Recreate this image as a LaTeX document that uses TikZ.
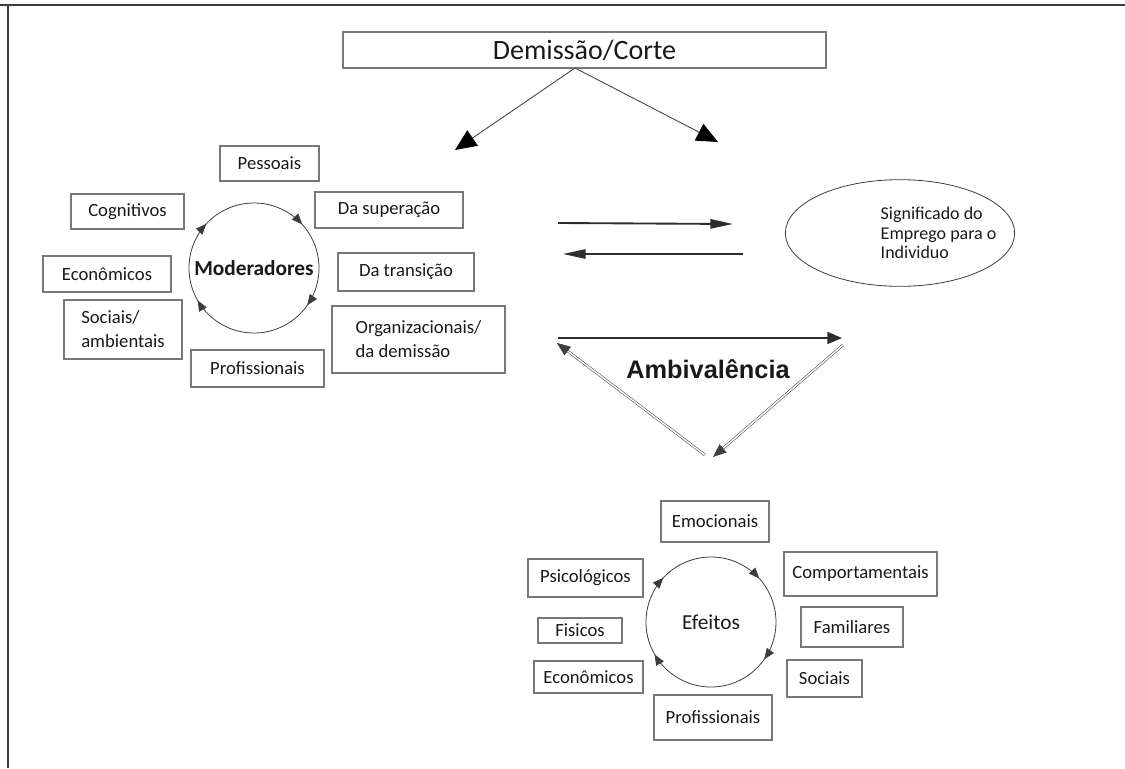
\documentclass[tikz,border=0pt]{standalone}
\usepackage{fontspec}
\setmainfont{Carlito}
\newfontfamily\ambfont{Liberation Sans}
\usetikzlibrary{arrows.meta, shapes.geometric, decorations.markings}
\definecolor{framegrey}{RGB}{60,60,60}
\definecolor{boxgrey}{RGB}{120,120,120}
\definecolor{txtgrey}{RGB}{25,25,25}
\tikzset{
    factor/.style={rectangle, draw=boxgrey, line width=0.8pt, text=txtgrey, font=\fontsize{14}{18}\selectfont, inner sep=0pt, align=center},
    dims/.style args={#1x#2}{minimum width=#1*0.75pt, minimum height=#2*0.75pt},
    hub/.style={circle, minimum size=97.5pt, inner sep=0pt, text=txtgrey},
    cyclearr/.style={draw=framegrey, line width=0.6pt, postaction={decorate}, decoration={markings,
        mark=at position 0.097 with {\arrow{Triangle[length=8pt,width=6.5pt]}},
        mark=at position 0.417 with {\arrow{Triangle[length=8pt,width=6.5pt]}},
        mark=at position 0.619 with {\arrow{Triangle[length=8pt,width=6.5pt]}},
        mark=at position 0.883 with {\arrow{Triangle[length=8pt,width=6.5pt]}}}},
    splitarr/.style={-{Triangle[length=16pt,width=14pt,color=black]}, draw=gray!60!black, line width=0.7pt},
    flowarr/.style={-{Triangle[length=17pt,width=7pt]}, draw=gray!35!black, line width=1.4pt},
    toparr/.style={-{Triangle[length=11pt,width=9pt]}, draw=gray!35!black, line width=1.4pt},
    sidearr/.style={-{Triangle[length=10pt,width=8pt]}, draw=gray!50!black, line width=0.4pt, double=white, double distance=1.1pt},
    meaning/.style={ellipse, draw=framegrey, line width=0.6pt, minimum width=172pt, minimum height=80pt, inner sep=0pt}
}

\begin{document}
\begin{tikzpicture}[x=0.75pt, y=-0.75pt]
    \useasboundingbox (0,0) rectangle (1125,768);
    \draw[framegrey, line width=1.5pt] (0,5) -- (1125,5);
    \draw[framegrey, line width=1.5pt] (8,5) -- (8,768);

    \node[factor, dims=483x36, font=\fontsize{21}{24}\selectfont] (dem) at (584.5,50) {Demissão/Corte};
    \coordinate (split) at (575,68);
    \coordinate (tipL) at (455,150);
    \coordinate (tipR) at (718,142);
    \draw[splitarr] (split) -- (tipL);
    \draw[splitarr] (split) -- (tipR);

    % moderadores
    \node[hub, font=\fontsize{16}{19}\selectfont\bfseries] (mod) at (254,268) {Moderadores};
    \draw[cyclearr] (mod.center) circle[radius=65];
    \node[factor, dims=99x35] (pess) at (269.5,163.5) {Pessoais};
    \node[factor, dims=113x35] (cogn) at (127.5,211.5) {Cognitivos};
    \node[factor, dims=148x36] (super) at (389,210) {Da superação};
    \node[factor, dims=128x36] (econM) at (107,274) {Econômicos};
    \node[factor, dims=136x38] (trans) at (406,272) {Da transição};
    \node[factor, dims=118x59, align=left] (soc) at (123,329.5) {Sociais/\\ambientais};
    \node[factor, dims=173x67, align=left] (org) at (418.5,339.5) {Organizacionais/\\da demissão};
    \node[factor, dims=133x37] (profM) at (257.5,368.5) {Profissionais};

    % significado
    \node[meaning] (signif) at (900,233) {};
    \node[anchor=west, align=left, text=txtgrey, font=\fontsize{13.5}{14.8}\selectfont] (signiftxt) at (876,233) {Significado do\\Emprego para o\\Individuo};
    \coordinate (goA) at (558,223);
    \coordinate (goB) at (733,224);
    \coordinate (backA) at (743,254);
    \coordinate (backB) at (563,254);
    \draw[flowarr] (goA) -- (goB);
    \draw[flowarr] (backA) -- (backB);

    % ambivalencia
    \node[text=txtgrey, font=\ambfont\fontsize{19}{22}\selectfont\bfseries] (amb) at (708,369) {Ambivalência};
    \coordinate (triA) at (558,338);
    \coordinate (triB) at (842,338);
    \coordinate (triC) at (843,345);
    \coordinate (triD) at (713,457);
    \coordinate (triE) at (705,455);
    \coordinate (triF) at (557,343);
    \draw[toparr] (triA) -- (triB);
    \draw[sidearr] (triC) -- (triD);
    \draw[sidearr] (triE) -- (triF);

    % efeitos
    \node[hub, font=\fontsize{16}{19}\selectfont] (efe) at (711,622) {Efeitos};
    \draw[cyclearr] (efe.center) circle[radius=65];
    \node[factor, dims=108x41] (emoc) at (715,521.5) {Emocionais};
    \node[factor, dims=115x38] (psic) at (585.5,578) {Psicológicos};
    \node[factor, dims=153x44] (comp) at (860.5,574) {Comportamentais};
    \node[factor, dims=84x25] (fis) at (580,630.5) {Fisicos};
    \node[factor, dims=102x40] (fam) at (852,627) {Familiares};
    \node[factor, dims=109x32] (econE) at (588.5,677) {Econômicos};
    \node[factor, dims=75x37] (socE) at (824.5,678.5) {Sociais};
    \node[factor, dims=118x45] (profE) at (713,717.5) {Profissionais};
\end{tikzpicture}
\end{document}
